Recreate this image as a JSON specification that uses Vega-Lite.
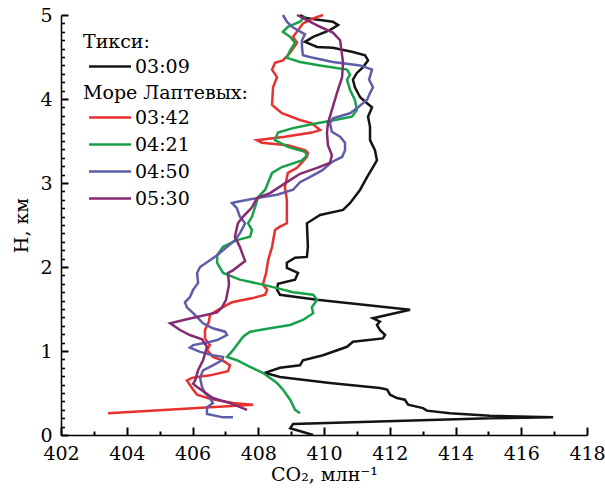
{
  "$schema": "https://vega.github.io/schema/vega-lite/v6.json",
  "width": 526,
  "height": 420,
  "autosize": "none",
  "padding": {"left": 61, "top": 15, "right": 18, "bottom": 64},
  "background": "white",
  "data": {"values": [
    {"s":"03:09","o":1,"x":409.67,"h":0.00},
    {"s":"03:09","o":2,"x":408.97,"h":0.08},
    {"s":"03:09","o":3,"x":409.06,"h":0.13},
    {"s":"03:09","o":4,"x":415.05,"h":0.20},
    {"s":"03:09","o":5,"x":416.97,"h":0.21},
    {"s":"03:09","o":6,"x":415.05,"h":0.23},
    {"s":"03:09","o":7,"x":413.83,"h":0.26},
    {"s":"03:09","o":8,"x":413.13,"h":0.29},
    {"s":"03:09","o":9,"x":413.01,"h":0.32},
    {"s":"03:09","o":10,"x":412.56,"h":0.36},
    {"s":"03:09","o":11,"x":412.46,"h":0.42},
    {"s":"03:09","o":12,"x":412.22,"h":0.44},
    {"s":"03:09","o":13,"x":412.01,"h":0.48},
    {"s":"03:09","o":14,"x":411.92,"h":0.54},
    {"s":"03:09","o":15,"x":411.70,"h":0.56},
    {"s":"03:09","o":16,"x":410.18,"h":0.62},
    {"s":"03:09","o":17,"x":408.66,"h":0.69},
    {"s":"03:09","o":18,"x":408.21,"h":0.74},
    {"s":"03:09","o":19,"x":408.66,"h":0.80},
    {"s":"03:09","o":20,"x":409.27,"h":0.83},
    {"s":"03:09","o":21,"x":409.36,"h":0.89},
    {"s":"03:09","o":22,"x":409.97,"h":0.95},
    {"s":"03:09","o":23,"x":410.70,"h":1.05},
    {"s":"03:09","o":24,"x":410.88,"h":1.11},
    {"s":"03:09","o":25,"x":411.79,"h":1.15},
    {"s":"03:09","o":26,"x":411.86,"h":1.19},
    {"s":"03:09","o":27,"x":411.70,"h":1.25},
    {"s":"03:09","o":28,"x":411.61,"h":1.31},
    {"s":"03:09","o":29,"x":411.70,"h":1.35},
    {"s":"03:09","o":30,"x":411.49,"h":1.39},
    {"s":"03:09","o":31,"x":412.62,"h":1.49},
    {"s":"03:09","o":32,"x":409.79,"h":1.61},
    {"s":"03:09","o":33,"x":408.66,"h":1.67},
    {"s":"03:09","o":34,"x":408.57,"h":1.73},
    {"s":"03:09","o":35,"x":408.60,"h":1.80},
    {"s":"03:09","o":36,"x":409.12,"h":1.85},
    {"s":"03:09","o":37,"x":409.21,"h":1.93},
    {"s":"03:09","o":38,"x":408.87,"h":1.99},
    {"s":"03:09","o":39,"x":408.87,"h":2.05},
    {"s":"03:09","o":40,"x":409.12,"h":2.11},
    {"s":"03:09","o":41,"x":409.48,"h":2.12},
    {"s":"03:09","o":42,"x":409.51,"h":2.24},
    {"s":"03:09","o":43,"x":409.48,"h":2.52},
    {"s":"03:09","o":44,"x":409.88,"h":2.62},
    {"s":"03:09","o":45,"x":410.58,"h":2.68},
    {"s":"03:09","o":46,"x":410.79,"h":2.76},
    {"s":"03:09","o":47,"x":411.10,"h":2.92},
    {"s":"03:09","o":48,"x":411.31,"h":3.07},
    {"s":"03:09","o":49,"x":411.49,"h":3.19},
    {"s":"03:09","o":50,"x":411.61,"h":3.27},
    {"s":"03:09","o":51,"x":411.55,"h":3.39},
    {"s":"03:09","o":52,"x":411.40,"h":3.51},
    {"s":"03:09","o":53,"x":411.40,"h":3.67},
    {"s":"03:09","o":54,"x":411.34,"h":3.79},
    {"s":"03:09","o":55,"x":411.46,"h":3.90},
    {"s":"03:09","o":56,"x":411.31,"h":3.95},
    {"s":"03:09","o":57,"x":411.10,"h":4.02},
    {"s":"03:09","o":58,"x":410.94,"h":4.14},
    {"s":"03:09","o":59,"x":410.88,"h":4.23},
    {"s":"03:09","o":60,"x":411.00,"h":4.31},
    {"s":"03:09","o":61,"x":411.19,"h":4.38},
    {"s":"03:09","o":62,"x":411.34,"h":4.46},
    {"s":"03:09","o":63,"x":411.25,"h":4.52},
    {"s":"03:09","o":64,"x":410.88,"h":4.56},
    {"s":"03:09","o":65,"x":410.27,"h":4.61},
    {"s":"03:09","o":66,"x":409.79,"h":4.62},
    {"s":"03:09","o":67,"x":409.42,"h":4.68},
    {"s":"03:09","o":68,"x":409.67,"h":4.74},
    {"s":"03:09","o":69,"x":410.18,"h":4.82},
    {"s":"03:09","o":70,"x":410.43,"h":4.88},
    {"s":"03:09","o":71,"x":410.27,"h":4.92},
    {"s":"03:09","o":72,"x":409.88,"h":4.94},
    {"s":"03:09","o":73,"x":409.48,"h":4.96},
    {"s":"03:09","o":74,"x":409.27,"h":5.00},

    {"s":"03:42","o":1,"x":403.43,"h":0.26},
    {"s":"03:42","o":2,"x":407.84,"h":0.36},
    {"s":"03:42","o":3,"x":407.23,"h":0.38},
    {"s":"03:42","o":4,"x":406.53,"h":0.43},
    {"s":"03:42","o":5,"x":406.14,"h":0.48},
    {"s":"03:42","o":6,"x":406.02,"h":0.54},
    {"s":"03:42","o":7,"x":405.83,"h":0.65},
    {"s":"03:42","o":8,"x":405.98,"h":0.68},
    {"s":"03:42","o":9,"x":406.53,"h":0.71},
    {"s":"03:42","o":10,"x":407.08,"h":0.76},
    {"s":"03:42","o":11,"x":407.14,"h":0.83},
    {"s":"03:42","o":12,"x":406.90,"h":0.89},
    {"s":"03:42","o":13,"x":406.62,"h":0.93},
    {"s":"03:42","o":14,"x":406.44,"h":1.01},
    {"s":"03:42","o":15,"x":406.53,"h":1.07},
    {"s":"03:42","o":16,"x":406.38,"h":1.15},
    {"s":"03:42","o":17,"x":406.38,"h":1.25},
    {"s":"03:42","o":18,"x":406.50,"h":1.35},
    {"s":"03:42","o":19,"x":406.53,"h":1.43},
    {"s":"03:42","o":20,"x":406.78,"h":1.49},
    {"s":"03:42","o":21,"x":407.05,"h":1.55},
    {"s":"03:42","o":22,"x":407.20,"h":1.58},
    {"s":"03:42","o":23,"x":407.84,"h":1.63},
    {"s":"03:42","o":24,"x":408.21,"h":1.67},
    {"s":"03:42","o":25,"x":408.27,"h":1.73},
    {"s":"03:42","o":26,"x":408.14,"h":1.79},
    {"s":"03:42","o":27,"x":408.24,"h":1.93},
    {"s":"03:42","o":28,"x":408.30,"h":2.08},
    {"s":"03:42","o":29,"x":408.42,"h":2.24},
    {"s":"03:42","o":30,"x":408.51,"h":2.44},
    {"s":"03:42","o":31,"x":408.66,"h":2.48},
    {"s":"03:42","o":32,"x":408.87,"h":2.52},
    {"s":"03:42","o":33,"x":408.87,"h":2.80},
    {"s":"03:42","o":34,"x":408.81,"h":2.95},
    {"s":"03:42","o":35,"x":408.90,"h":3.12},
    {"s":"03:42","o":36,"x":409.18,"h":3.18},
    {"s":"03:42","o":37,"x":409.48,"h":3.31},
    {"s":"03:42","o":38,"x":409.51,"h":3.36},
    {"s":"03:42","o":39,"x":409.42,"h":3.39},
    {"s":"03:42","o":40,"x":408.90,"h":3.45},
    {"s":"03:42","o":41,"x":408.11,"h":3.48},
    {"s":"03:42","o":42,"x":407.96,"h":3.51},
    {"s":"03:42","o":43,"x":408.81,"h":3.55},
    {"s":"03:42","o":44,"x":409.63,"h":3.60},
    {"s":"03:42","o":45,"x":409.88,"h":3.63},
    {"s":"03:42","o":46,"x":409.63,"h":3.71},
    {"s":"03:42","o":47,"x":409.27,"h":3.75},
    {"s":"03:42","o":48,"x":408.72,"h":3.83},
    {"s":"03:42","o":49,"x":408.42,"h":3.93},
    {"s":"03:42","o":50,"x":408.45,"h":4.14},
    {"s":"03:42","o":51,"x":408.57,"h":4.26},
    {"s":"03:42","o":52,"x":408.42,"h":4.35},
    {"s":"03:42","o":53,"x":408.51,"h":4.43},
    {"s":"03:42","o":54,"x":408.75,"h":4.46},
    {"s":"03:42","o":55,"x":408.97,"h":4.55},
    {"s":"03:42","o":56,"x":409.18,"h":4.67},
    {"s":"03:42","o":57,"x":409.06,"h":4.74},
    {"s":"03:42","o":58,"x":409.21,"h":4.82},
    {"s":"03:42","o":59,"x":409.36,"h":4.90},
    {"s":"03:42","o":60,"x":409.67,"h":4.96},
    {"s":"03:42","o":61,"x":409.97,"h":5.00},

    {"s":"04:21","o":1,"x":409.27,"h":0.26},
    {"s":"04:21","o":2,"x":409.12,"h":0.30},
    {"s":"04:21","o":3,"x":408.97,"h":0.42},
    {"s":"04:21","o":4,"x":408.75,"h":0.54},
    {"s":"04:21","o":5,"x":408.57,"h":0.62},
    {"s":"04:21","o":6,"x":408.14,"h":0.74},
    {"s":"04:21","o":7,"x":407.75,"h":0.81},
    {"s":"04:21","o":8,"x":407.35,"h":0.89},
    {"s":"04:21","o":9,"x":407.05,"h":0.93},
    {"s":"04:21","o":10,"x":407.23,"h":1.01},
    {"s":"04:21","o":11,"x":407.54,"h":1.17},
    {"s":"04:21","o":12,"x":407.75,"h":1.23},
    {"s":"04:21","o":13,"x":408.36,"h":1.27},
    {"s":"04:21","o":14,"x":408.97,"h":1.31},
    {"s":"04:21","o":15,"x":409.36,"h":1.37},
    {"s":"04:21","o":16,"x":409.67,"h":1.45},
    {"s":"04:21","o":17,"x":409.63,"h":1.52},
    {"s":"04:21","o":18,"x":409.79,"h":1.61},
    {"s":"04:21","o":19,"x":409.67,"h":1.67},
    {"s":"04:21","o":20,"x":409.06,"h":1.70},
    {"s":"04:21","o":21,"x":408.66,"h":1.74},
    {"s":"04:21","o":22,"x":408.14,"h":1.79},
    {"s":"04:21","o":23,"x":407.44,"h":1.85},
    {"s":"04:21","o":24,"x":406.93,"h":1.93},
    {"s":"04:21","o":25,"x":406.75,"h":2.05},
    {"s":"04:21","o":26,"x":406.75,"h":2.14},
    {"s":"04:21","o":27,"x":406.93,"h":2.24},
    {"s":"04:21","o":28,"x":407.35,"h":2.32},
    {"s":"04:21","o":29,"x":407.75,"h":2.36},
    {"s":"04:21","o":30,"x":407.81,"h":2.44},
    {"s":"04:21","o":31,"x":407.69,"h":2.52},
    {"s":"04:21","o":32,"x":407.81,"h":2.60},
    {"s":"04:21","o":33,"x":407.90,"h":2.71},
    {"s":"04:21","o":34,"x":407.99,"h":2.83},
    {"s":"04:21","o":35,"x":408.21,"h":2.92},
    {"s":"04:21","o":36,"x":408.42,"h":3.12},
    {"s":"04:21","o":37,"x":408.72,"h":3.19},
    {"s":"04:21","o":38,"x":409.33,"h":3.27},
    {"s":"04:21","o":39,"x":409.48,"h":3.33},
    {"s":"04:21","o":40,"x":409.42,"h":3.37},
    {"s":"04:21","o":41,"x":408.90,"h":3.43},
    {"s":"04:21","o":42,"x":408.51,"h":3.51},
    {"s":"04:21","o":43,"x":408.60,"h":3.60},
    {"s":"04:21","o":44,"x":409.03,"h":3.65},
    {"s":"04:21","o":45,"x":409.51,"h":3.69},
    {"s":"04:21","o":46,"x":410.33,"h":3.75},
    {"s":"04:21","o":47,"x":410.85,"h":3.79},
    {"s":"04:21","o":48,"x":411.00,"h":3.87},
    {"s":"04:21","o":49,"x":410.94,"h":3.99},
    {"s":"04:21","o":50,"x":410.79,"h":4.11},
    {"s":"04:21","o":51,"x":410.70,"h":4.23},
    {"s":"04:21","o":52,"x":410.79,"h":4.29},
    {"s":"04:21","o":53,"x":410.70,"h":4.35},
    {"s":"04:21","o":54,"x":409.88,"h":4.40},
    {"s":"04:21","o":55,"x":409.27,"h":4.44},
    {"s":"04:21","o":56,"x":408.87,"h":4.49},
    {"s":"04:21","o":57,"x":408.97,"h":4.58},
    {"s":"04:21","o":58,"x":409.12,"h":4.67},
    {"s":"04:21","o":59,"x":408.97,"h":4.74},
    {"s":"04:21","o":60,"x":408.75,"h":4.80},
    {"s":"04:21","o":61,"x":408.90,"h":4.86},
    {"s":"04:21","o":62,"x":409.27,"h":4.92},
    {"s":"04:21","o":63,"x":409.42,"h":4.98},

    {"s":"04:50","o":1,"x":407.23,"h":0.21},
    {"s":"04:50","o":2,"x":406.93,"h":0.21},
    {"s":"04:50","o":3,"x":406.44,"h":0.25},
    {"s":"04:50","o":4,"x":406.44,"h":0.33},
    {"s":"04:50","o":5,"x":406.62,"h":0.38},
    {"s":"04:50","o":6,"x":406.53,"h":0.44},
    {"s":"04:50","o":7,"x":406.38,"h":0.50},
    {"s":"04:50","o":8,"x":406.29,"h":0.57},
    {"s":"04:50","o":9,"x":406.23,"h":0.68},
    {"s":"04:50","o":10,"x":406.32,"h":0.77},
    {"s":"04:50","o":11,"x":406.62,"h":0.83},
    {"s":"04:50","o":12,"x":406.90,"h":0.89},
    {"s":"04:50","o":13,"x":406.93,"h":0.93},
    {"s":"04:50","o":14,"x":406.62,"h":0.95},
    {"s":"04:50","o":15,"x":406.23,"h":0.99},
    {"s":"04:50","o":16,"x":405.92,"h":1.04},
    {"s":"04:50","o":17,"x":406.02,"h":1.07},
    {"s":"04:50","o":18,"x":406.44,"h":1.10},
    {"s":"04:50","o":19,"x":406.75,"h":1.13},
    {"s":"04:50","o":20,"x":407.05,"h":1.19},
    {"s":"04:50","o":21,"x":406.99,"h":1.23},
    {"s":"04:50","o":22,"x":406.62,"h":1.27},
    {"s":"04:50","o":23,"x":406.32,"h":1.33},
    {"s":"04:50","o":24,"x":406.17,"h":1.39},
    {"s":"04:50","o":25,"x":406.02,"h":1.45},
    {"s":"04:50","o":26,"x":405.83,"h":1.52},
    {"s":"04:50","o":27,"x":405.77,"h":1.58},
    {"s":"04:50","o":28,"x":405.92,"h":1.64},
    {"s":"04:50","o":29,"x":406.02,"h":1.73},
    {"s":"04:50","o":30,"x":406.17,"h":1.81},
    {"s":"04:50","o":31,"x":406.14,"h":1.93},
    {"s":"04:50","o":32,"x":406.23,"h":2.00},
    {"s":"04:50","o":33,"x":406.53,"h":2.08},
    {"s":"04:50","o":34,"x":406.75,"h":2.14},
    {"s":"04:50","o":35,"x":406.93,"h":2.20},
    {"s":"04:50","o":36,"x":407.29,"h":2.32},
    {"s":"04:50","o":37,"x":407.44,"h":2.40},
    {"s":"04:50","o":38,"x":407.60,"h":2.52},
    {"s":"04:50","o":39,"x":407.44,"h":2.60},
    {"s":"04:50","o":40,"x":407.35,"h":2.70},
    {"s":"04:50","o":41,"x":407.20,"h":2.76},
    {"s":"04:50","o":42,"x":407.29,"h":2.77},
    {"s":"04:50","o":43,"x":407.96,"h":2.82},
    {"s":"04:50","o":44,"x":408.57,"h":2.86},
    {"s":"04:50","o":45,"x":409.06,"h":2.92},
    {"s":"04:50","o":46,"x":409.27,"h":3.01},
    {"s":"04:50","o":47,"x":409.57,"h":3.07},
    {"s":"04:50","o":48,"x":409.94,"h":3.15},
    {"s":"04:50","o":49,"x":410.24,"h":3.25},
    {"s":"04:50","o":50,"x":410.55,"h":3.31},
    {"s":"04:50","o":51,"x":410.64,"h":3.39},
    {"s":"04:50","o":52,"x":410.64,"h":3.48},
    {"s":"04:50","o":53,"x":410.49,"h":3.55},
    {"s":"04:50","o":54,"x":410.24,"h":3.61},
    {"s":"04:50","o":55,"x":410.18,"h":3.71},
    {"s":"04:50","o":56,"x":410.27,"h":3.77},
    {"s":"04:50","o":57,"x":410.79,"h":3.83},
    {"s":"04:50","o":58,"x":411.03,"h":3.90},
    {"s":"04:50","o":59,"x":411.31,"h":3.99},
    {"s":"04:50","o":60,"x":411.40,"h":4.07},
    {"s":"04:50","o":61,"x":411.49,"h":4.14},
    {"s":"04:50","o":62,"x":411.37,"h":4.23},
    {"s":"04:50","o":63,"x":411.46,"h":4.35},
    {"s":"04:50","o":64,"x":411.10,"h":4.40},
    {"s":"04:50","o":65,"x":410.27,"h":4.44},
    {"s":"04:50","o":66,"x":409.67,"h":4.49},
    {"s":"04:50","o":67,"x":409.36,"h":4.52},
    {"s":"04:50","o":68,"x":409.33,"h":4.61},
    {"s":"04:50","o":69,"x":409.33,"h":4.70},
    {"s":"04:50","o":70,"x":409.42,"h":4.77},
    {"s":"04:50","o":71,"x":409.06,"h":4.85},
    {"s":"04:50","o":72,"x":408.87,"h":4.92},
    {"s":"04:50","o":73,"x":408.75,"h":5.00},

    {"s":"05:30","o":1,"x":407.66,"h":0.30},
    {"s":"05:30","o":2,"x":407.14,"h":0.38},
    {"s":"05:30","o":3,"x":406.62,"h":0.44},
    {"s":"05:30","o":4,"x":406.14,"h":0.57},
    {"s":"05:30","o":5,"x":406.02,"h":0.61},
    {"s":"05:30","o":6,"x":406.08,"h":0.65},
    {"s":"05:30","o":7,"x":406.17,"h":0.77},
    {"s":"05:30","o":8,"x":406.32,"h":0.89},
    {"s":"05:30","o":9,"x":406.44,"h":1.05},
    {"s":"05:30","o":10,"x":406.29,"h":1.14},
    {"s":"05:30","o":11,"x":405.92,"h":1.19},
    {"s":"05:30","o":12,"x":405.62,"h":1.25},
    {"s":"05:30","o":13,"x":405.32,"h":1.33},
    {"s":"05:30","o":14,"x":405.86,"h":1.38},
    {"s":"05:30","o":15,"x":406.75,"h":1.46},
    {"s":"05:30","o":16,"x":406.90,"h":1.52},
    {"s":"05:30","o":17,"x":407.02,"h":1.61},
    {"s":"05:30","o":18,"x":407.11,"h":1.79},
    {"s":"05:30","o":19,"x":407.08,"h":1.93},
    {"s":"05:30","o":20,"x":407.23,"h":1.96},
    {"s":"05:30","o":21,"x":407.60,"h":2.07},
    {"s":"05:30","o":22,"x":407.44,"h":2.24},
    {"s":"05:30","o":23,"x":407.29,"h":2.36},
    {"s":"05:30","o":24,"x":407.38,"h":2.52},
    {"s":"05:30","o":25,"x":407.54,"h":2.60},
    {"s":"05:30","o":26,"x":407.81,"h":2.71},
    {"s":"05:30","o":27,"x":407.96,"h":2.82},
    {"s":"05:30","o":28,"x":408.36,"h":2.88},
    {"s":"05:30","o":29,"x":408.87,"h":3.01},
    {"s":"05:30","o":30,"x":409.27,"h":3.11},
    {"s":"05:30","o":31,"x":409.79,"h":3.18},
    {"s":"05:30","o":32,"x":410.18,"h":3.24},
    {"s":"05:30","o":33,"x":410.24,"h":3.33},
    {"s":"05:30","o":34,"x":410.12,"h":3.45},
    {"s":"05:30","o":35,"x":410.09,"h":3.60},
    {"s":"05:30","o":36,"x":410.12,"h":3.71},
    {"s":"05:30","o":37,"x":410.24,"h":3.87},
    {"s":"05:30","o":38,"x":410.40,"h":4.08},
    {"s":"05:30","o":39,"x":410.55,"h":4.26},
    {"s":"05:30","o":40,"x":410.58,"h":4.43},
    {"s":"05:30","o":41,"x":410.49,"h":4.70},
    {"s":"05:30","o":42,"x":410.27,"h":4.79},
    {"s":"05:30","o":43,"x":409.88,"h":4.86},
    {"s":"05:30","o":44,"x":409.48,"h":4.94},
    {"s":"05:30","o":45,"x":409.18,"h":5.00}
  ]},
  "layer": [
    {
      "transform": [{"filter": "datum.s === '03:09'"}],
      "mark": {"type": "line", "strokeWidth": 2.5},
      "encoding": {
        "x": {
          "field": "x", "type": "quantitative",
          "scale": {"domain": [402, 418], "nice": false, "zero": false},
          "axis": {
            "orient": "bottom",
            "title": "CO₂, млн⁻¹",
            "values": [402,404,406,408,410,412,414,416,418],
            "ticks": true,
            "tickSize": -8,
            "tickWidth": 2,
            "tickColor": "black",
            "grid": false,
            "domain": true,
            "domainColor": "black",
            "domainWidth": 1.5,
            "labelPadding": 17,
            "labelAlign": "center",
            "labelFlush": false,
            "labelOverlap": false,
            "titlePadding": 2
          }
        },
        "y": {
          "field": "h", "type": "quantitative",
          "scale": {"domain": [0, 5], "nice": false},
          "axis": {
            "orient": "left",
            "title": "H, км",
            "values": [0,1,2,3,4,5],
            "ticks": true,
            "tickSize": -7,
            "tickWidth": 2,
            "tickColor": "black",
            "grid": false,
            "domain": true,
            "domainColor": "black",
            "domainWidth": 1.5,
            "labelPadding": 16,
            "labelOverlap": false,
            "labelFlush": false,
            "titlePadding": 8
          }
        },
        "color": {
          "field": "s", "type": "nominal",
          "scale": {"domain": ["03:09"], "range": ["#141414"]},
          "legend": {"title": "Тикси:", "orient": "none", "legendX": 22, "legendY": 18}
        },
        "order": {"field": "o", "type": "quantitative"}
      }
    },
    {
      "transform": [{"filter": "datum.s !== '03:09'"}],
      "mark": {"type": "line", "strokeWidth": 2.5},
      "encoding": {
        "x": {
          "field": "x", "type": "quantitative",
          "axis": {
            "orient": "bottom",
            "title": null,
            "values": [403,405,407,409,411,413,415,417],
            "ticks": true,
            "tickSize": -4,
            "tickWidth": 2,
            "tickColor": "black",
            "grid": false,
            "labels": false,
            "domain": false
          }
        },
        "y": {
          "field": "h", "type": "quantitative",
          "axis": {
            "orient": "left",
            "title": null,
            "values": [0.1,0.2,0.3,0.4,0.5,0.6,0.7,0.8,0.9,1.1,1.2,1.3,1.4,1.5,1.6,1.7,1.8,1.9,2.1,2.2,2.3,2.4,2.5,2.6,2.7,2.8,2.9,3.1,3.2,3.3,3.4,3.5,3.6,3.7,3.8,3.9,4.1,4.2,4.3,4.4,4.5,4.6,4.7,4.8,4.9],
            "ticks": true,
            "tickSize": -3.5,
            "tickWidth": 1.6,
            "tickColor": "black",
            "grid": false,
            "labels": false,
            "domain": false
          }
        },
        "color": {
          "field": "s", "type": "nominal",
          "scale": {"domain": ["03:42", "04:21", "04:50", "05:30"], "range": ["#e8302e", "#17a148", "#5d5ea8", "#862a73"]},
          "legend": {"title": "Море Лаптевых:", "orient": "none", "legendX": 22, "legendY": 69}
        },
        "order": {"field": "o", "type": "quantitative"}
      }
    }
  ],
  "resolve": {"scale": {"color": "independent"}, "axis": {"x": "independent", "y": "independent"}},
  "config": {
    "view": {"stroke": null},
    "font": "DejaVu Serif",
    "axis": {
      "labelColor": "black",
      "titleColor": "black",
      "labelFont": "DejaVu Serif",
      "titleFont": "DejaVu Serif",
      "labelFontSize": 19,
      "titleFontSize": 19,
      "titleFontWeight": "normal"
    },
    "legend": {
      "titleFont": "DejaVu Serif",
      "labelFont": "DejaVu Serif",
      "titleFontSize": 19,
      "labelFontSize": 19,
      "titleFontWeight": "normal",
      "titleColor": "black",
      "labelColor": "black",
      "symbolType": "M-0.7,0L2.1,0",
      "symbolSize": 900,
      "symbolStrokeWidth": 2.5,
      "labelOffset": 19,
      "rowPadding": 0,
      "titlePadding": -2,
      "padding": 0
    }
  }
}
